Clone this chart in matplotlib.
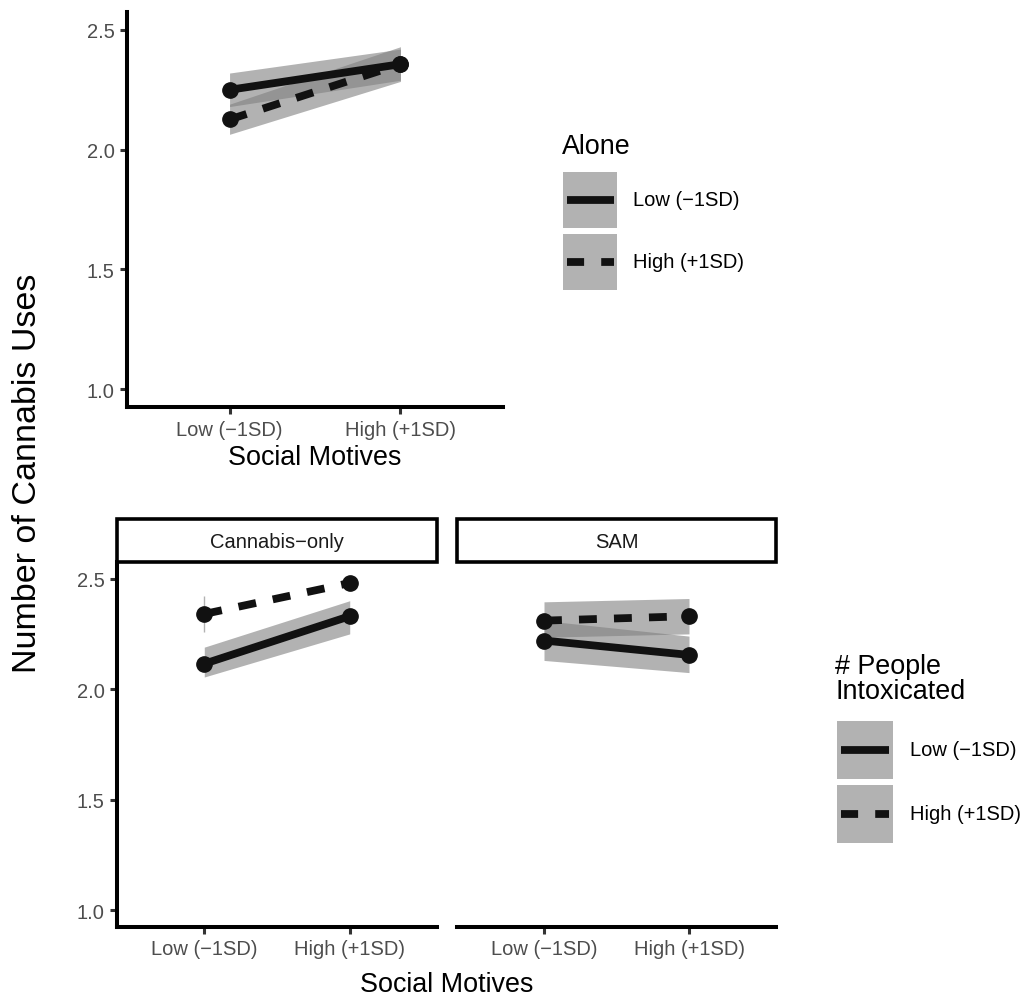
import numpy as np
import matplotlib
matplotlib.use("Agg")
import matplotlib.pyplot as plt
from matplotlib.patches import Rectangle
from matplotlib.lines import Line2D
from matplotlib.legend_handler import HandlerBase

plt.rcParams['font.family'] = ['Liberation Sans', 'DejaVu Sans']

# data
x_labels = ["Low (\u22121SD)", "High (+1SD)"]
x_pos = [1, 2]

# top panel: Alone
alone_low = [2.25, 2.357]
alone_low_lo = [2.18, 2.29]
alone_low_hi = [2.32, 2.42]
alone_high = [2.126, 2.357]
alone_high_lo = [2.064, 2.285]
alone_high_hi = [2.19, 2.43]

# bottom panels: # People Intoxicated, faceted by type
facets = ["Cannabis\u2212only", "SAM"]
ppl_low = {"Cannabis\u2212only": [2.115, 2.33], "SAM": [2.22, 2.155]}
ppl_low_lo = {"Cannabis\u2212only": [2.055, 2.25], "SAM": [2.13, 2.075]}
ppl_low_hi = {"Cannabis\u2212only": [2.19, 2.40], "SAM": [2.31, 2.24]}
ppl_high = {"Cannabis\u2212only": [2.34, 2.48], "SAM": [2.31, 2.33]}
ppl_high_lo = {"Cannabis\u2212only": [2.26, np.nan], "SAM": [2.235, 2.25]}
ppl_high_hi = {"Cannabis\u2212only": [2.42, np.nan], "SAM": [2.395, 2.41]}

legend_labels = ["Low (\u22121SD)", "High (+1SD)"]

W, H = 1032, 1003
fig = plt.figure(figsize=(W / 100, H / 100), dpi=100)


def rect(l, t, r, b):
    return [l / W, 1 - b / H, (r - l) / W, (b - t) / H]


LINE_C = "#111111"
RIB_C = "#808080"
RIB_A = 0.6
LW = 5.6
MS = 11
DASH = (0, (2.3, 2.2))
TICK_FS = 14.5
TITLE_FS = 19.4


def style_ax(ax, show_y=True):
    ax.set_xlim(0.4, 2.6)
    ax.set_ylim(0.925, 2.575)
    ax.set_xticks(x_pos)
    ax.set_xticklabels(x_labels)
    ax.set_yticks([1.0, 1.5, 2.0, 2.5])
    ax.set_yticklabels(["1.0", "1.5", "2.0", "2.5"])
    for s in ["top", "right"]:
        ax.spines[s].set_visible(False)
    ax.spines["bottom"].set_linewidth(2.9)
    ax.spines["left"].set_linewidth(2.9)
    ax.tick_params(length=5, width=2.2, labelsize=TICK_FS,
                   labelcolor="#4d4d4d", color="#333333", pad=4)
    if not show_y:
        ax.spines["left"].set_visible(False)
        ax.tick_params(axis="y", left=False, labelleft=False)


def draw_series(ax, y, lo, hi, ls):
    lo = np.array(lo, dtype=float)
    hi = np.array(hi, dtype=float)
    if np.isnan(lo).any():
        ok = ~np.isnan(lo)
        ax.vlines(np.array(x_pos)[ok], lo[ok], hi[ok], color=RIB_C,
                  alpha=RIB_A, lw=1.0)
    else:
        ax.fill_between(x_pos, lo, hi, color=RIB_C, alpha=RIB_A, lw=0)
    ax.plot(x_pos, y, color=LINE_C, lw=LW, ls=ls, marker="o", ms=MS,
            dash_capstyle="butt", zorder=3)


# top panel
ax_top = fig.add_axes(rect(127, 13, 503, 408))
draw_series(ax_top, alone_high, alone_high_lo, alone_high_hi, DASH)
draw_series(ax_top, alone_low, alone_low_lo, alone_low_hi, "-")
style_ax(ax_top)
ax_top.set_xlabel("Social Motives", fontsize=TITLE_FS, labelpad=4)

# bottom panels
bounds = [(117, 437), (457, 776)]
for i, f in enumerate(facets):
    l, r = bounds[i]
    ax = fig.add_axes(rect(l, 563, r, 928))
    draw_series(ax, ppl_high[f], ppl_high_lo[f], ppl_high_hi[f], DASH)
    draw_series(ax, ppl_low[f], ppl_low_lo[f], ppl_low_hi[f], "-")
    style_ax(ax, show_y=(i == 0))
    # strip
    fig.patches.append(Rectangle((l / W, 1 - 563 / H), (r - l) / W, 43 / H,
                                 transform=fig.transFigure, facecolor="white",
                                 edgecolor="black", lw=2.6))
    fig.text((l + r) / 2 / W, 1 - 542 / H, f, ha="center", va="center",
             fontsize=TICK_FS, color="#1a1a1a")

fig.text(447 / W, 1 - 985 / H, "Social Motives", ha="center", va="center",
         fontsize=TITLE_FS)
fig.text(28 / W, 1 - 473 / H, "Number of Cannabis Uses", ha="center",
         va="center", rotation=90, fontsize=24.5)


# legend key: grey ribbon box with the line on top
class RibbonKey(HandlerBase):
    def create_artists(self, legend, orig_handle, xdescent, ydescent,
                       width, height, fontsize, trans):
        box = Rectangle((-xdescent, -ydescent), width, height,
                        facecolor=RIB_C, alpha=RIB_A, edgecolor="none",
                        transform=trans)
        pad = width * 0.07
        yc = -ydescent + height / 2
        ln = Line2D([-xdescent + pad, -xdescent + width - pad], [yc, yc],
                    color=orig_handle.get_color(),
                    lw=orig_handle.get_linewidth(),
                    dash_capstyle="butt", solid_capstyle="butt",
                    transform=trans)
        if orig_handle.get_linestyle() != "-":
            ln.set_linestyle((0, (2.2, 2.2)))
        return [box, ln]


def make_handles():
    return [Line2D([], [], color=LINE_C, lw=LW, ls=ls) for ls in ["-", "--"]]


fig.text(562 / W, 1 - 147 / H, "Alone", ha="left", va="center",
         fontsize=TITLE_FS)
fig.legend(make_handles(), legend_labels, loc="upper left",
           bbox_to_anchor=(563 / W, 1 - 173 / H), frameon=False, borderpad=0,
           borderaxespad=0, fontsize=TICK_FS, handlelength=2.7,
           handleheight=3.9, labelspacing=0.3, handletextpad=0.8,
           handler_map={Line2D: RibbonKey()})

fig.text(835 / W, 1 - 680 / H, "# People\nIntoxicated", ha="left",
         va="center", fontsize=TITLE_FS, linespacing=0.95)
fig.legend(make_handles(), legend_labels, loc="upper left",
           bbox_to_anchor=(837 / W, 1 - 722 / H), frameon=False, borderpad=0,
           borderaxespad=0, fontsize=TICK_FS, handlelength=2.8,
           handleheight=4.05, labelspacing=0.3, handletextpad=0.8,
           handler_map={Line2D: RibbonKey()})

fig.savefig("out.png", dpi=100, facecolor="white")
